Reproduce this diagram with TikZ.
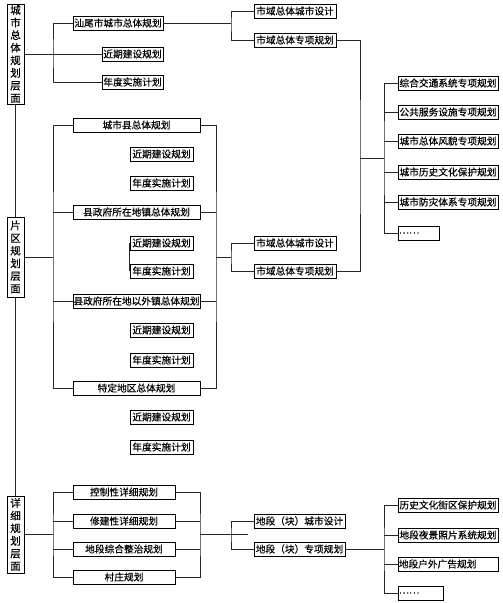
\documentclass[tikz,border=0pt]{standalone}
\usepackage{fontspec}
\newfontfamily\cjk[FakeBold=0.4]{Noto Sans CJK SC}
\usepackage{tikz}
\usetikzlibrary{calc}
\tikzset{
    plan/.style = {draw, line width=0.7pt, inner sep=0.5pt, minimum height=14pt,
                   font=\cjk\fontsize{9.7}{11}\selectfont},
    planleft/.style = {plan, align=left, anchor=west},
    layer/.style = {draw, line width=0.7pt, inner sep=1pt, minimum width=17pt,
                    align=center, font=\cjk\fontsize{10.5}{12.6}\selectfont},
    link/.style = {line width=0.7pt, black!85}
}

\begin{document}
\begin{tikzpicture}[x=1pt,y=-1pt]
                \useasboundingbox (0,0) rectangle (503,603);

                % layers
                \node[layer, minimum height=98pt] (L1) at (15.5,54) {城\\市\\总\\体\\规\\划\\层\\面};
                \node[layer, minimum height=80pt] (L2) at (15.5,257) {片\\区\\规\\划\\层\\面};
                \node[layer, minimum height=77pt] (L3) at (15.5,534.5) {详\\细\\规\\划\\层\\面};

                % city level
                \node[plan, minimum width=90pt] (A0) at (118,23) {汕尾市城市总体规划};
                \node[plan, minimum width=61pt] (A1) at (132.5,54) {近期建设规划};
                \node[plan, minimum width=61pt] (A2) at (132.5,82) {年度实施计划};
                \node[plan, minimum width=82pt] (B1) at (295,11) {市域总体城市设计};
                \node[plan, minimum width=82pt] (B2) at (295,40) {市域总体专项规划};

                \node[plan, minimum width=100pt] (R1) at (448,83) {综合交通系统专项规划};
                \node[plan, minimum width=100pt] (R2) at (448,112) {公共服务设施专项规划};
                \node[plan, minimum width=100pt] (R3) at (448,141) {城市总体风貌专项规划};
                \node[plan, minimum width=100pt] (R4) at (448,172) {城市历史文化保护规划};
                \node[plan, minimum width=100pt] (R5) at (448,202) {城市防灾体系专项规划};
                \node[planleft, text width=40pt] (R6) at (398,233) {……};

                % district level
                \node[plan, minimum width=127pt] (C1) at (136.5,125) {城市县总体规划};
                \node[plan, minimum width=63pt] (C1a) at (161.5,154) {近期建设规划};
                \node[plan, minimum width=63pt] (C1b) at (161.5,183) {年度实施计划};
                \node[plan, minimum width=127pt] (C2) at (136.5,212) {县政府所在地镇总体规划};
                \node[plan, minimum width=63pt] (C2a) at (161.5,243) {近期建设规划};
                \node[plan, minimum width=63pt] (C2b) at (161.5,271) {年度实施计划};
                \node[plan, minimum width=127pt] (C3) at (136.5,301) {县政府所在地以外镇总体规划};
                \node[plan, minimum width=63pt] (C3a) at (161.5,330) {近期建设规划};
                \node[plan, minimum width=63pt] (C3b) at (161.5,360) {年度实施计划};
                \node[plan, minimum width=127pt] (C4) at (136.5,388) {特定地区总体规划};
                \node[plan, minimum width=63pt] (C4a) at (161.5,417) {近期建设规划};
                \node[plan, minimum width=63pt] (C4b) at (161.5,447) {年度实施计划};
                \node[plan, minimum width=82pt] (D1) at (295,243) {市域总体城市设计};
                \node[plan, minimum width=82pt] (D2) at (295,271) {市域总体专项规划};

                % detail level
                \node[plan, minimum width=102pt] (E1) at (124,492) {控制性详细规划};
                \node[plan, minimum width=102pt] (E2) at (124,521) {修建性详细规划};
                \node[plan, minimum width=102pt] (E3) at (124,549) {地段综合整治规划};
                \node[plan, minimum width=102pt] (E4) at (124,577) {村庄规划};
                \node[plan, minimum width=91pt] (F1) at (299.5,521) {地段（块）城市设计};
                \node[plan, minimum width=91pt] (F2) at (299.5,549) {地段（块）专项规划};
                \node[plan, minimum width=100pt] (G1) at (448,505) {历史文化街区保护规划};
                \node[plan, minimum width=100pt] (G2) at (448,535) {地段夜景照片系统规划};
                \node[planleft, text width=99pt] (G3) at (398,564) {地段户外广告规划};
                \node[planleft, text width=44pt] (G4) at (398,593) {……};

                % junctions
                \coordinate (t1) at (53,54);
                \coordinate (t2) at (231,23);
                \coordinate (t3) at (360,158);
                \coordinate (t4) at (384,158);
                \coordinate (t5) at (53,257);
                \coordinate (t6) at (216,257);
                \coordinate (t7) at (231,257);
                \coordinate (t8) at (53,534.5);
                \coordinate (t9) at (200,534.5);
                \coordinate (t10) at (231,534.5);
                \coordinate (t11) at (248,534.5);
                \coordinate (t12) at (384,549);

                \begin{scope}[link]
                \draw (L1) -- (L2) -- (L3);

                \draw (L1.east) -- (A1.west);
                \draw (A0.west) -| (t1) |- (A2.west);
                \draw (A0.east) -- (t2);
                \draw (B1.west) -| (t2) |- (B2.west);
                \draw (B2.east) -| (t3) |- (D2.east);
                \draw (t3) -- (t4);
                \draw (R1.west) -| (t4) |- (R6.west);
                \foreach \i in {2,...,5}
                    \draw (R\i.west) -- (R\i.west -| t4);

                \draw (L2.east) -- (t5);
                \draw (C1.west) -| (t5) |- (C4.west);
                \draw (C1.east) -| (t6) |- (C4.east);
                \foreach \i in {2,3} {
                    \draw (C\i.west) -- (C\i.west -| t5);
                    \draw (C\i.east) -- (C\i.east -| t6);
                }
                \draw (C2a.west) -- (C2b.west);
                \draw (t6) -- (t7);
                \draw (D1.west) -| (t7) |- (D2.west);

                \draw (L3.east) -- (t8);
                \draw (E1.west) -| (t8) |- (E4.west);
                \draw (E1.east) -| (t9) |- (E4.east);
                \foreach \i in {2,3} {
                    \draw (E\i.west) -- (E\i.west -| t8);
                    \draw (E\i.east) -- (E\i.east -| t9);
                }
                \draw (t9) -- (t11);
                \draw (F1.west) -| (t10) |- (F2.west);
                \draw (F2.east) -- (t12);
                \draw (G1.west) -| (t12) |- (G4.west);
                \foreach \i in {2,3}
                    \draw (G\i.west) -- (G\i.west -| t12);
                \end{scope}
            \end{tikzpicture}
\end{document}
